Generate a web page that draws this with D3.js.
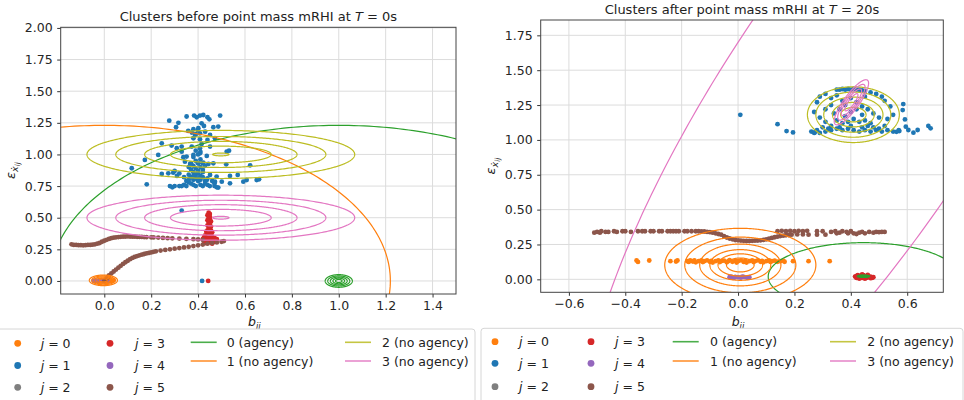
<!DOCTYPE html>
<html><head><meta charset="utf-8">
<script src="https://cdn.jsdelivr.net/npm/d3@7"></script>
<style>
body{margin:0;background:#fff;}
svg{display:block;font-family:"DejaVu Sans",sans-serif;}
</style></head><body>
<svg id="chart" width="964" height="400"></svg>
<script>
// ---------- cluster points, T = 0s ----------
const beforeJ0 = [[-0.04,0.002],[-0.03,0.0],[-0.025,-0.008],[-0.02,0.005],[-0.015,0.008],[-0.01,-0.005],[0.0,0.0],[0.005,-0.01],[0.01,0.004],[0.015,0.01],[0.02,-0.003],[0.025,0.012],[0.03,0.0],[0.04,0.005]];
const beforeJ1 = [[0.277,1.267],[0.316,1.25],[0.306,1.215],[0.351,1.30],[0.383,1.307],[0.394,1.294],[0.408,1.307],[0.422,1.312],[0.44,1.294],[0.448,1.278],[0.494,1.307],[0.415,1.246],[0.425,1.225],[0.401,1.207],[0.465,1.215],[0.486,1.22],[0.358,1.186],[0.373,1.173],[0.387,1.154],[0.408,1.167],[0.43,1.18],[0.451,1.154],[0.38,1.128],[0.408,1.12],[0.44,1.115],[0.472,1.128],[0.415,1.083],[0.245,1.088],[0.287,1.07],[0.309,1.049],[0.33,1.062],[0.373,1.062],[0.408,1.049],[0.451,1.062],[0.33,1.022],[0.351,0.983],[0.38,0.996],[0.408,1.009],[0.437,0.988],[0.23,0.996],[0.173,0.957],[0.117,0.891],[0.181,0.764],[0.245,0.846],[0.273,0.851],[0.294,0.856],[0.337,0.978],[0.344,0.943],[0.366,0.925],[0.401,0.93],[0.422,0.935],[0.444,0.925],[0.465,0.93],[0.522,1.022],[0.532,1.03],[0.52,0.922],[0.622,0.914],[0.569,0.838],[0.607,0.798],[0.593,0.785],[0.65,0.798],[0.66,0.804],[0.536,0.83],[0.536,0.772],[0.501,0.785],[0.479,0.825],[0.472,0.785],[0.437,0.798],[0.451,0.838],[0.486,0.738],[0.36,0.90],[0.37,0.88],[0.38,0.91],[0.39,0.89],[0.40,0.87],[0.41,0.90],[0.42,0.88],[0.43,0.91],[0.38,0.86],[0.39,0.84],[0.40,0.85],[0.41,0.83],[0.42,0.86],[0.37,0.82],[0.38,0.80],[0.39,0.81],[0.40,0.79],[0.41,0.80],[0.42,0.82],[0.43,0.79],[0.44,0.81],[0.36,0.78],[0.37,0.77],[0.35,0.79],[0.34,0.76],[0.33,0.75],[0.32,0.75],[0.30,0.75],[0.29,0.74],[0.28,0.75],[0.35,0.75],[0.38,0.76],[0.39,0.75],[0.41,0.76],[0.42,0.75],[0.44,0.76],[0.45,0.75],[0.47,0.75],[0.48,0.74],[0.40,0.93],[0.39,0.95],[0.41,0.96],[0.38,0.98],[0.40,1.00],[0.39,1.03],[0.41,1.02],[0.40,0.81],[0.46,0.79],[0.47,0.77],[0.43,0.77],[0.38,0.83],[0.36,0.84],[0.34,0.82],[0.31,0.83],[0.32,0.85],[0.30,0.87],[0.39,1.16],[0.40,1.19],[0.38,1.20],[0.36,0.80],[0.37,0.93],[0.42,0.93],[0.33,0.556],[0.417,0.0]];
const beforeJ3 = [[0.445,0.54],[0.45,0.53],[0.44,0.52],[0.45,0.51],[0.445,0.50],[0.45,0.49],[0.44,0.48],[0.455,0.47],[0.445,0.46],[0.45,0.45],[0.44,0.44],[0.455,0.43],[0.445,0.42],[0.45,0.41],[0.44,0.40],[0.455,0.40],[0.435,0.39],[0.45,0.38],[0.46,0.385],[0.44,0.37],[0.455,0.365],[0.43,0.36],[0.445,0.355],[0.46,0.35],[0.425,0.345],[0.44,0.34],[0.455,0.335],[0.47,0.34],[0.42,0.33],[0.435,0.325],[0.45,0.32],[0.465,0.325],[0.48,0.33],[0.425,0.315],[0.44,0.31],[0.455,0.305],[0.47,0.31],[0.44,0.30],[0.46,0.295],[0.43,0.30],[0.443,0.0]];
const beforeJ4 = [[-0.045,0.0],[-0.035,0.002],[-0.025,-0.002],[-0.015,0.001],[-0.005,0.0],[0.005,-0.001],[0.015,0.001]];
const beforeJ5 = [[-0.14,0.29],[-0.13,0.285],[-0.12,0.285],[-0.11,0.283],[-0.10,0.283],[-0.09,0.282],[-0.08,0.283],[-0.07,0.285],[-0.06,0.285],[-0.05,0.287],[-0.04,0.29],[-0.03,0.295],[-0.02,0.30],[-0.01,0.31],[0.0,0.318],[0.01,0.325],[0.02,0.332],[0.03,0.338],[0.04,0.342],[0.05,0.345],[0.06,0.347],[0.07,0.349],[0.08,0.35],[0.09,0.351],[0.10,0.352],[0.11,0.351],[0.12,0.35],[0.13,0.35],[0.14,0.349],[0.15,0.348],[0.16,0.348],[0.17,0.347],[0.18,0.346],[0.20,0.345],[0.21,0.344],[0.23,0.343],[0.25,0.34],[0.27,0.338],[0.29,0.337],[0.32,0.335],[0.35,0.333],[0.38,0.33],[0.40,0.328],[0.42,0.325],
  [0.0,0.0],[0.005,0.01],[0.01,0.02],[0.015,0.03],[0.02,0.045],[0.03,0.06],[0.04,0.075],[0.05,0.09],[0.06,0.105],[0.07,0.12],[0.08,0.135],[0.09,0.148],[0.10,0.16],[0.11,0.172],[0.12,0.182],[0.13,0.19],[0.14,0.197],[0.15,0.203],[0.16,0.208],[0.17,0.213],[0.18,0.218],[0.19,0.222],[0.20,0.226],[0.21,0.23],[0.22,0.234],[0.24,0.24],[0.26,0.245],[0.28,0.25],[0.30,0.255],[0.32,0.26],[0.34,0.265],[0.36,0.27],[0.38,0.276],[0.40,0.282],[0.42,0.288],[0.44,0.295],[0.46,0.30],[0.48,0.305],[0.50,0.31],[0.51,0.315]];

// ---------- cluster points, T = 20s ----------
const afterJ0 = [[-0.36,0.135],[-0.355,0.125],[-0.315,0.135],[-0.24,0.13],[-0.22,0.128],[-0.215,0.135],[-0.18,0.13],[-0.175,0.125],[-0.17,0.135],[-0.16,0.128],[-0.155,0.135],[-0.15,0.122],[-0.14,0.13],[-0.13,0.135],[-0.125,0.124],[-0.12,0.13],[-0.11,0.136],[-0.10,0.126],[-0.095,0.132],[-0.09,0.12],[-0.08,0.13],[-0.07,0.136],[-0.065,0.124],[-0.06,0.13],[-0.05,0.134],[-0.04,0.122],[-0.035,0.13],[-0.03,0.137],[-0.02,0.126],[-0.01,0.132],[-0.005,0.12],[0.0,0.13],[0.01,0.136],[0.02,0.125],[0.025,0.132],[0.03,0.12],[0.04,0.13],[0.05,0.135],[0.055,0.124],[0.06,0.13],[0.07,0.136],[0.08,0.126],[0.085,0.132],[0.09,0.122],[0.10,0.13],[0.11,0.135],[0.115,0.125],[0.12,0.13],[0.13,0.134],[0.14,0.126],[0.15,0.13],[0.16,0.134],[0.165,0.126],[0.195,0.13],[0.25,0.13],[0.325,0.13]];
const afterJ1 = [[0.008,1.18],[0.14,1.113],[0.172,1.063],[0.195,1.054],[0.272,1.054],[0.586,1.257],[0.584,1.214],[0.592,1.147],[0.595,1.095],[0.572,1.063],[0.562,1.058],[0.604,1.071],[0.622,1.052],[0.637,1.071],[0.675,1.1],[0.683,1.083],
  [0.35,1.36],[0.36,1.36],[0.37,1.365],[0.38,1.36],[0.39,1.365],[0.40,1.36],[0.41,1.365],[0.42,1.36],[0.43,1.36],[0.44,1.355],[0.45,1.35],[0.47,1.34],[0.49,1.33],[0.51,1.31],[0.31,1.33],[0.29,1.31],[0.33,1.30],[0.35,1.32],[0.37,1.28],[0.45,1.31],[0.52,1.28],[0.54,1.24],[0.28,1.27],[0.31,1.22],[0.33,1.25],[0.27,1.2],[0.29,1.16],[0.31,1.13],[0.34,1.19],[0.36,1.22],[0.38,1.17],[0.40,1.2],[0.42,1.22],[0.44,1.18],[0.46,1.22],[0.48,1.19],[0.50,1.16],[0.53,1.15],[0.55,1.18],[0.39,1.13],[0.41,1.15],[0.43,1.13],[0.45,1.14],[0.47,1.12],[0.35,1.14],[0.37,1.12],[0.33,1.1],[0.3,1.09],[0.28,1.07],[0.26,1.06],[0.27,1.05],[0.29,1.05],[0.31,1.06],[0.33,1.07],[0.35,1.08],[0.37,1.07],[0.39,1.08],[0.41,1.07],[0.43,1.06],[0.45,1.07],[0.47,1.06],[0.49,1.07],[0.51,1.06],[0.53,1.07],[0.55,1.06],[0.57,1.07],[0.36,1.09],[0.40,1.10],[0.44,1.09],[0.48,1.09],[0.52,1.1],[0.42,1.27],[0.4,1.3],[0.44,1.24],[0.38,1.25],[0.32,1.08],[0.5,1.08],[0.46,1.1]];
const afterJ3 = [[0.415,0.02],[0.42,0.01],[0.425,0.03],[0.43,0.015],[0.435,0.025],[0.44,0.01],[0.445,0.03],[0.45,0.02],[0.455,0.01],[0.46,0.025],[0.465,0.015],[0.47,0.02],[0.475,0.01],[0.48,0.015],[0.42,0.025],[0.43,0.005],[0.44,0.035],[0.45,0.005],[0.46,0.032],[0.47,0.008]];
const afterJ4 = [[-0.03,0.015],[-0.025,0.02],[-0.02,0.012],[-0.015,0.01],[-0.01,0.018],[0.0,0.015],[0.01,0.012],[0.015,0.02],[0.02,0.017],[0.03,0.014],[0.035,0.01],[0.04,0.015]];
const afterJ5 = [[-0.51,0.335],[-0.5,0.34],[-0.49,0.335],[-0.485,0.345],[-0.47,0.34],[-0.46,0.34],[-0.44,0.345],[-0.43,0.34],[-0.41,0.345],[-0.40,0.345],[-0.38,0.34],[-0.355,0.345],[-0.34,0.345],[-0.33,0.345],[-0.31,0.345],[-0.3,0.345],[-0.28,0.345],[-0.27,0.345],[-0.25,0.345],[-0.24,0.345],[-0.23,0.345],[-0.22,0.345],[-0.21,0.345],[-0.19,0.345],[-0.18,0.345],[-0.165,0.345],[-0.15,0.345],[-0.14,0.345],[-0.13,0.343],[-0.12,0.343],[-0.11,0.34],[-0.1,0.338],[-0.09,0.335],[-0.08,0.33],[-0.07,0.325],[-0.06,0.32],[-0.05,0.31],[-0.04,0.3],[-0.03,0.293],[-0.02,0.287],[-0.01,0.282],[0.0,0.28],[0.01,0.278],[0.02,0.276],[0.03,0.275],[0.04,0.275],[0.05,0.276],[0.06,0.277],[0.07,0.278],[0.08,0.28],[0.09,0.283],[0.10,0.287],[0.11,0.292],[0.12,0.297],[0.13,0.302],[0.14,0.306],[0.15,0.31],[0.16,0.313],[0.17,0.316],[0.18,0.318],[0.19,0.32],[0.21,0.322],[0.23,0.322],[0.25,0.32],
  [0.14,0.345],[0.155,0.348],[0.17,0.345],[0.185,0.348],[0.2,0.345],[0.215,0.348],[0.23,0.345],[0.245,0.348],[0.28,0.345],[0.3,0.345],[0.33,0.34],[0.345,0.345],[0.36,0.335],[0.37,0.345],[0.385,0.34],[0.4,0.345],[0.41,0.33],[0.43,0.335],[0.44,0.34],[0.45,0.33],[0.465,0.34],[0.48,0.335],[0.49,0.34],[0.5,0.338],[0.51,0.34],[0.52,0.34],[0.28,0.32],[0.31,0.32],[0.35,0.33],[0.39,0.33],[0.42,0.325]];

// ---------- fitted component contours (centre, semi-axes per level, tilt in degrees) ----------
const beforeContours = [
  {c:"green", cx:1.0, cy:0.0, rx:[0.058,0.047,0.036,0.025,0.014], ry:[0.05,0.04,0.031,0.022,0.012], ang:0},
  {c:"green", cx:1.0, cy:0.0, rx:[1.231], ry:[1.23], ang:0},
  {c:"orange", cx:-0.004, cy:0.005, rx:[0.06,0.05,0.04,0.029,0.017], ry:[0.042,0.035,0.028,0.02,0.012], ang:0},
  {c:"orange", cx:0.0, cy:0.0, rx:[1.22], ry:[1.23], ang:0},
  {c:"olive", cx:0.497, cy:1.0, rx:[0.571,0.448,0.325,0.215,0.035], ry:[0.19,0.142,0.103,0.066,0.011], ang:0},
  {c:"pink", cx:0.497, cy:0.5, rx:[0.571,0.448,0.325,0.215,0.035], ry:[0.178,0.138,0.103,0.066,0.011], ang:0}
];
const afterContours = [
  {c:"green", cx:0.445, cy:0.02, rx:[0.338], ry:[0.243], ang:0},
  {c:"green", cx:0.445, cy:0.022, rx:[0.022,0.016,0.01], ry:[0.009,0.007,0.004], ang:0},
  {c:"orange", cx:0.008, cy:0.103, rx:[0.268,0.197,0.144,0.108,0.079,0.049], ry:[0.263,0.2,0.15,0.11,0.08,0.05], ang:0},
  {c:"olive", cx:0.409, cy:1.181, rx:[0.163,0.133,0.105,0.074,0.045], ry:[0.2,0.162,0.126,0.088,0.052], ang:0},
  {c:"pink", cx:0.405, cy:1.255, rx:[2.82], ry:[0.519], ang:73.3},
  {c:"pink", cx:0.402, cy:1.27, rx:[0.17,0.135,0.1,0.065], ry:[0.031,0.025,0.019,0.012], ang:71.7}
];

// ---------- axes ----------
const beforeXTicks = [0.0,0.2,0.4,0.6,0.8,1.0,1.2,1.4];
const beforeYTicks = [0.0,0.25,0.5,0.75,1.0,1.25,1.5,1.75,2.0];
const afterXTicks = [-0.6,-0.4,-0.2,0.0,0.2,0.4,0.6];
const afterYTicks = [0.0,0.25,0.5,0.75,1.0,1.25,1.5,1.75];

const pointLabels = ["0","1","2","3","4","5"];
const lineLabels = ["0 (agency)","1 (no agency)","2 (no agency)","3 (no agency)"];

const COL = {orange:"#ff7f0e", blue:"#1f77b4", gray:"#7f7f7f", red:"#d62728", purple:"#9467bd", brown:"#8c564b", green:"#2ca02c", olive:"#bcbd22", pink:"#e377c2"};
const pointColors = [COL.orange, COL.blue, COL.gray, COL.red, COL.purple, COL.brown];
const lineColors = [COL.green, COL.orange, COL.olive, COL.pink];

const svg = d3.select("#chart");

function panel(cfg, id) {
  const x = d3.scaleLinear().domain(cfg.xDom).range([cfg.left, cfg.right]);
  const y = d3.scaleLinear().domain(cfg.yDom).range([cfg.bottom, cfg.top]);
  const g = svg.append("g");

  g.append("clipPath").attr("id", id).append("rect")
    .attr("x", cfg.left).attr("y", cfg.top)
    .attr("width", cfg.right - cfg.left).attr("height", cfg.bottom - cfg.top);

  // grid
  g.append("g").selectAll("line").data(cfg.xTicks).join("line")
    .attr("x1", d => x(d)).attr("x2", d => x(d)).attr("y1", cfg.top).attr("y2", cfg.bottom)
    .attr("stroke", "#dcdcdc").attr("stroke-width", 1);
  g.append("g").selectAll("line").data(cfg.yTicks).join("line")
    .attr("y1", d => y(d)).attr("y2", d => y(d)).attr("x1", cfg.left).attr("x2", cfg.right)
    .attr("stroke", "#dcdcdc").attr("stroke-width", 1);

  const plot = g.append("g").attr("clip-path", `url(#${id})`);

  // scatter, drawn in cluster order
  cfg.points.forEach((pts, j) => {
    plot.append("g").selectAll("circle").data(pts).join("circle")
      .attr("cx", d => x(d[0])).attr("cy", d => y(d[1])).attr("r", 2.4)
      .attr("fill", pointColors[j]);
  });

  // contour ellipses
  const line = d3.line().x(d => x(d[0])).y(d => y(d[1]));
  cfg.contours.forEach(ct => {
    const th = ct.ang * Math.PI / 180;
    ct.rx.forEach((a, k) => {
      const b = ct.ry[k];
      const pts = d3.range(0, 361).map(i => {
        const t = i * Math.PI / 180;
        return [ct.cx + a * Math.cos(th) * Math.cos(t) - b * Math.sin(th) * Math.sin(t),
                ct.cy + a * Math.sin(th) * Math.cos(t) + b * Math.cos(th) * Math.sin(t)];
      });
      plot.append("path").attr("d", line(pts)).attr("fill", "none")
        .attr("stroke", COL[ct.c]).attr("stroke-width", 1.2);
    });
  });

  // axes
  const xa = g.append("g").attr("transform", `translate(0,${cfg.bottom})`)
    .call(d3.axisBottom(x).tickValues(cfg.xTicks).tickFormat(d3.format(".1f")).tickSize(3.5).tickPadding(3.5));
  const ya = g.append("g").attr("transform", `translate(${cfg.left},0)`)
    .call(d3.axisLeft(y).tickValues(cfg.yTicks).tickFormat(d3.format(".2f")).tickSize(3.5).tickPadding(4.5));
  [xa, ya].forEach(a => {
    a.select(".domain").remove();
    a.selectAll("text").attr("font-size", 12.5).attr("fill", "#262626").attr("font-family", "DejaVu Sans");
    a.selectAll("line").attr("stroke", "#333");
  });
  g.append("rect").attr("x", cfg.left).attr("y", cfg.top)
    .attr("width", cfg.right - cfg.left).attr("height", cfg.bottom - cfg.top)
    .attr("fill", "none").attr("stroke", "#444").attr("stroke-width", 1);

  // title
  const tt = g.append("text").attr("x", (cfg.left + cfg.right) / 2).attr("y", cfg.titleY)
    .attr("text-anchor", "middle").attr("font-size", 13).attr("fill", "#222");
  tt.append("tspan").text(cfg.title);
  tt.append("tspan").attr("font-style", "italic").text("T");
  tt.append("tspan").text(" = " + cfg.tval + "s");

  // axis labels
  const xl = g.append("text").attr("x", (cfg.left + cfg.right) / 2 - 4).attr("y", 326)
    .attr("text-anchor", "middle").attr("font-size", 12.5).attr("fill", "#222");
  xl.append("tspan").attr("font-style", "italic").text("b");
  xl.append("tspan").attr("font-style", "italic").attr("font-size", 8.5).attr("dy", 3).text("ij");

  const yl = g.append("text")
    .attr("transform", `translate(${cfg.yLabelX},${(cfg.top + cfg.bottom) / 2 + 10}) rotate(-90)`)
    .attr("text-anchor", "middle").attr("font-size", 13).attr("fill", "#222");
  yl.append("tspan").attr("font-style", "italic").text("ε");
  yl.append("tspan").attr("font-style", "italic").attr("font-size", 9.5).attr("dy", 3).text("ẋ");
  yl.append("tspan").attr("font-style", "italic").attr("font-size", 7).attr("dy", 2).text("ij");

  // legend
  const L = cfg.legend;
  const lg = svg.append("g");
  lg.append("rect").attr("x", L.x0).attr("y", L.y0).attr("width", L.x1 - L.x0).attr("height", 80)
    .attr("rx", 3).attr("fill", "#fff").attr("stroke", "#d6d6d6").attr("stroke-width", 1);
  pointLabels.forEach((lab, j) => {
    const col = Math.floor(j / 3), row = j % 3;
    const cy = L.mRows[row];
    lg.append("circle").attr("cx", L.mX[col]).attr("cy", cy).attr("r", 3.4).attr("fill", pointColors[j]);
    const t = lg.append("text").attr("x", L.mTX[col]).attr("y", cy + 4.5).attr("font-size", 12.5).attr("fill", "#222");
    t.append("tspan").attr("font-style", "italic").text("j");
    t.append("tspan").text(" = " + lab);
  });
  lineLabels.forEach((lab, k) => {
    const col = Math.floor(k / 2), row = k % 2;
    const cy = L.lRows[row];
    lg.append("line").attr("x1", L.lX[col]).attr("x2", L.lX[col] + 26).attr("y1", cy).attr("y2", cy)
      .attr("stroke", lineColors[k]).attr("stroke-width", 1.6).attr("opacity", 0.85);
    lg.append("text").attr("x", L.lTX[col]).attr("y", cy + 4.5).attr("font-size", 12.5).attr("fill", "#222").text(lab);
  });
}

panel({
  left: 60.7, right: 456, top: 27.3, bottom: 294,
  xDom: [-0.186, 1.5], yDom: [-0.103, 2.005],
  xTicks: beforeXTicks, yTicks: beforeYTicks,
  points: [beforeJ0, beforeJ1, [], beforeJ3, beforeJ4, beforeJ5],
  contours: beforeContours,
  title: "Clusters before point mass mRHI at ", tval: "0", titleY: 20.5, yLabelX: 15,
  legend: {x0: -3, x1: 475, y0: 329, mX: [17.7, 110], mTX: [40.7, 135], mRows: [343.3, 365.5, 387.3],
           lX: [190.7, 345], lTX: [226.7, 382], lRows: [342.3, 361]}
}, "clipA");

panel({
  left: 540.7, right: 943.3, top: 20, bottom: 292.3,
  xDom: [-0.70, 0.728], yDom: [-0.093, 1.86],
  xTicks: afterXTicks, yTicks: afterYTicks,
  points: [afterJ0, afterJ1, [], afterJ3, afterJ4, afterJ5],
  contours: afterContours,
  title: "Clusters after point mass mRHI at ", tval: "20", titleY: 14, yLabelX: 495,
  legend: {x0: 481, x1: 963, y0: 328.3, mX: [495, 591], mTX: [519, 615], mRows: [341.7, 363.3, 386.7],
           lX: [672.7, 830], lTX: [710, 867.3], lRows: [341.7, 361]}
}, "clipB");
</script>
</body></html>
